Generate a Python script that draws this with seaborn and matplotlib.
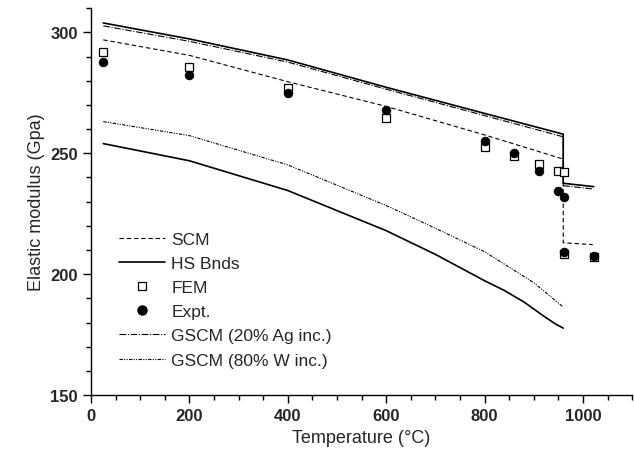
import numpy as np
import pandas as pd
import matplotlib
matplotlib.use("Agg")
import matplotlib.pyplot as plt
from matplotlib.lines import Line2D
from matplotlib.ticker import MultipleLocator
import seaborn as sns

# values
scm_t = [25, 200, 400, 600, 800, 960, 960, 1020]
scm_e = [296.9, 290.5, 279.6, 269.4, 257.6, 247.6, 213.0, 212.2]

hs_up_t = [25, 200, 400, 600, 800, 960, 960, 1022]
hs_up_e = [303.9, 297.3, 288.6, 277.3, 266.5, 257.9, 237.6, 236.2]

hs_lo_t = [25, 200, 400, 600, 700, 800, 840, 880, 920, 945, 960]
hs_lo_e = [254.0, 246.9, 234.6, 218.0, 208.2, 197.3, 193.3, 188.5, 182.7, 179.3, 177.7]

ag_t = [25, 200, 400, 600, 800, 960, 960, 1022]
ag_e = [302.7, 296.3, 287.7, 276.5, 265.6, 256.8, 236.6, 235.2]

w_t = [25, 200, 400, 600, 700, 800, 900, 960]
w_e = [263.1, 257.3, 245.2, 228.4, 219.0, 209.3, 196.5, 186.4]

fem_t = [25, 200, 400, 600, 800, 860, 910, 950, 962, 962, 1022]
fem_e = [291.9, 285.8, 276.8, 264.5, 252.6, 248.8, 245.7, 242.8, 242.2, 208.2, 207.0]

exp_t = [25, 200, 400, 600, 800, 860, 910, 950, 962, 962, 1022]
exp_e = [287.8, 282.2, 274.9, 267.8, 255.1, 250.3, 242.7, 234.4, 232.0, 209.0, 207.4]

sns.set_style("ticks")
plt.rcParams['font.family'] = ['Liberation Sans', 'DejaVu Sans']

fig, ax = plt.subplots(figsize=(6.34, 4.6), dpi=100)
fig.subplots_adjust(left=0.1435, right=0.997, top=0.98, bottom=0.139)

scm_ls = (0, (4, 2.5))
ag_ls = (0, (6, 1.5, 1, 1.5))
w_ls = (0, (3, 1.2, 1, 1.2, 1, 1.2))

sns.lineplot(x=scm_t, y=scm_e, sort=False, estimator=None, color='black', lw=0.8, linestyle=scm_ls, ax=ax)
sns.lineplot(x=hs_up_t, y=hs_up_e, sort=False, estimator=None, color='black', lw=1.2, ax=ax)
sns.lineplot(x=hs_lo_t, y=hs_lo_e, sort=False, estimator=None, color='black', lw=1.2, ax=ax)
sns.lineplot(x=ag_t, y=ag_e, sort=False, estimator=None, color='black', lw=0.8, linestyle=ag_ls, ax=ax)
sns.lineplot(x=w_t, y=w_e, sort=False, estimator=None, color='black', lw=0.8, linestyle=w_ls, ax=ax)
sns.scatterplot(x=fem_t, y=fem_e, marker='s', s=34, facecolor='white', edgecolor='black', linewidth=0.9, ax=ax, zorder=3)
sns.scatterplot(x=exp_t, y=exp_e, marker='o', s=40, color='black', edgecolor='black', linewidth=0.5, ax=ax, zorder=4)

ax.set_xlim(0, 1100)
ax.set_ylim(150, 310)
ax.xaxis.set_major_locator(MultipleLocator(200))
ax.xaxis.set_minor_locator(MultipleLocator(50))
ax.yaxis.set_major_locator(MultipleLocator(50))
ax.yaxis.set_minor_locator(MultipleLocator(10))
ax.tick_params(which='major', length=6, width=1, labelsize=12, color='black')
ax.tick_params(which='minor', length=3.5, width=1, color='black')
for lab in ax.get_xticklabels() + ax.get_yticklabels():
    lab.set_fontweight('bold')
sns.despine(ax=ax)
for s in ['left', 'bottom']:
    ax.spines[s].set_color('black')
    ax.spines[s].set_linewidth(1)

ax.set_xlabel('Temperature (°C)', fontsize=13)
ax.set_ylabel('Elastic modulus (Gpa)', fontsize=13)

handles = [
    Line2D([], [], color='black', lw=0.8, linestyle=scm_ls),
    Line2D([], [], color='black', lw=1.2),
    Line2D([], [], marker='s', ls='none', markersize=6, markerfacecolor='white', markeredgecolor='black', markeredgewidth=0.9),
    Line2D([], [], marker='o', ls='none', markersize=6.5, color='black'),
    Line2D([], [], color='black', lw=0.8, linestyle=ag_ls),
    Line2D([], [], color='black', lw=0.8, linestyle=w_ls),
]
labels = ['SCM', 'HS Bnds', 'FEM', 'Expt.', 'GSCM (20% Ag inc.)', 'GSCM (80% W inc.)']
ax.legend(handles, labels, loc='upper left', bbox_to_anchor=(0.022, 0.463), frameon=False,
          fontsize=12.5, handlelength=2.7, handletextpad=0.35, labelspacing=0.52)

fig.savefig('out.png', dpi=100)
